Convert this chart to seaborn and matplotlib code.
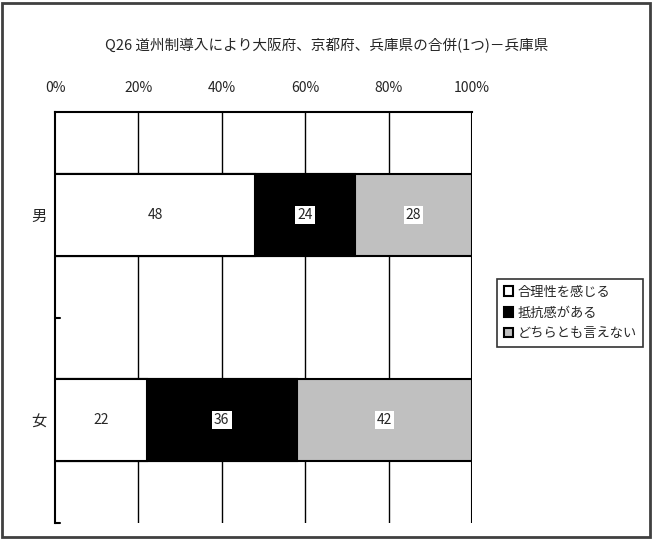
import numpy as np
import pandas as pd
import seaborn as sns
import matplotlib.pyplot as plt
from matplotlib.patches import Rectangle

sns.set_theme(style="white")
plt.rcParams['font.family'] = ['Noto Sans CJK JP', 'DejaVu Sans']

# ------------------------------------------ #
#                    data                    #
# ------------------------------------------ #

title = "Q26 道州制導入により大阪府、京都府、兵庫県の合併(1つ)－兵庫県"
genders = ["男", "女"]
answers = ["合理性を感じる", "抵抗感がある", "どちらとも言えない"]
agree = [48, 22]
resist = [24, 36]
neither = [28, 42]
colors = ["white", "black", "#c0c0c0"]

data = pd.DataFrame({
    "gender": genders,
    answers[0]: agree,
    answers[1]: resist,
    answers[2]: neither,
})

# cumulative so the bars can be stacked by drawing the longest first
cum = data[answers].cumsum(axis=1)
cum["gender"] = data["gender"]

fig = plt.figure(figsize=(6.53, 5.39), dpi=100)
ax = fig.add_axes([55 / 653, 1 - 523 / 539, (472 - 55) / 653, (523 - 112) / 539])

for ans, col in reversed(list(zip(answers, colors))):
    sns.barplot(
        data=cum, x=ans, y="gender", order=genders, orient="h",
        color=col, width=0.4, edgecolor="black", linewidth=1.5,
        saturation=1, ax=ax, label=ans, zorder=3,
    )

# segment labels
for i, g in enumerate(genders):
    left = 0
    for ans in answers:
        v = data.loc[i, ans]
        ax.text(left + v / 2, i, str(v), ha="center", va="center", fontsize=10,
                zorder=5,
                bbox=dict(facecolor="white", edgecolor="none", pad=1.5))
        left += v

ax.set_xlim(0, 100)
ax.set_ylim(1.5, -0.5)
ax.set_xticks(np.arange(0, 101, 20))
ax.set_xticklabels([f"{t}%" for t in range(0, 101, 20)])
ax.xaxis.tick_top()
ax.tick_params(axis="x", length=0, labelsize=10, pad=12)
ax.set_yticks([0, 1])
ax.set_yticklabels(genders)
ax.tick_params(axis="y", length=0, labelsize=11, pad=6)
ax.set_xlabel("")
ax.set_ylabel("")

# vertical gridlines
for t in range(20, 101, 20):
    ax.axvline(t, ymin=0, ymax=1, color="black", lw=1.0, zorder=1)

# small inward ticks on the category axis
for yv in [0.5, 1.5]:
    ax.plot([0, 1.2], [yv, yv], color="black", lw=1.5, clip_on=False, zorder=4)

for side in ["top", "left"]:
    ax.spines[side].set_visible(True)
    ax.spines[side].set_color("black")
    ax.spines[side].set_linewidth(1.5)
ax.spines["right"].set_visible(False)
ax.spines["bottom"].set_visible(False)
ax.axvline(100, color="black", lw=1.5, zorder=2)

# legend
handles, labels = ax.get_legend_handles_labels()
order = [labels.index(a) for a in answers]
leg = fig.legend(
    [handles[k] for k in order], [labels[k] for k in order],
    loc="upper left", bbox_to_anchor=(497 / 653, 1 - 279 / 539),
    frameon=True, fancybox=False, edgecolor="black", fontsize=9.5,
    handlelength=0.7, handleheight=0.7, handletextpad=0.35,
    borderpad=0.5, labelspacing=0.6, borderaxespad=0,
)
leg.get_frame().set_linewidth(1.2)
if ax.get_legend():
    ax.get_legend().remove()

fig.text(0.5, 1 - 46 / 539, title, ha="center", va="center", fontsize=10.5)

# outer frame
fig.patches.append(Rectangle((2 / 653, 2 / 539), 648 / 653, 534 / 539,
                             transform=fig.transFigure, fill=False,
                             edgecolor="#404040", lw=2))

fig.savefig("out.png", dpi=100)
